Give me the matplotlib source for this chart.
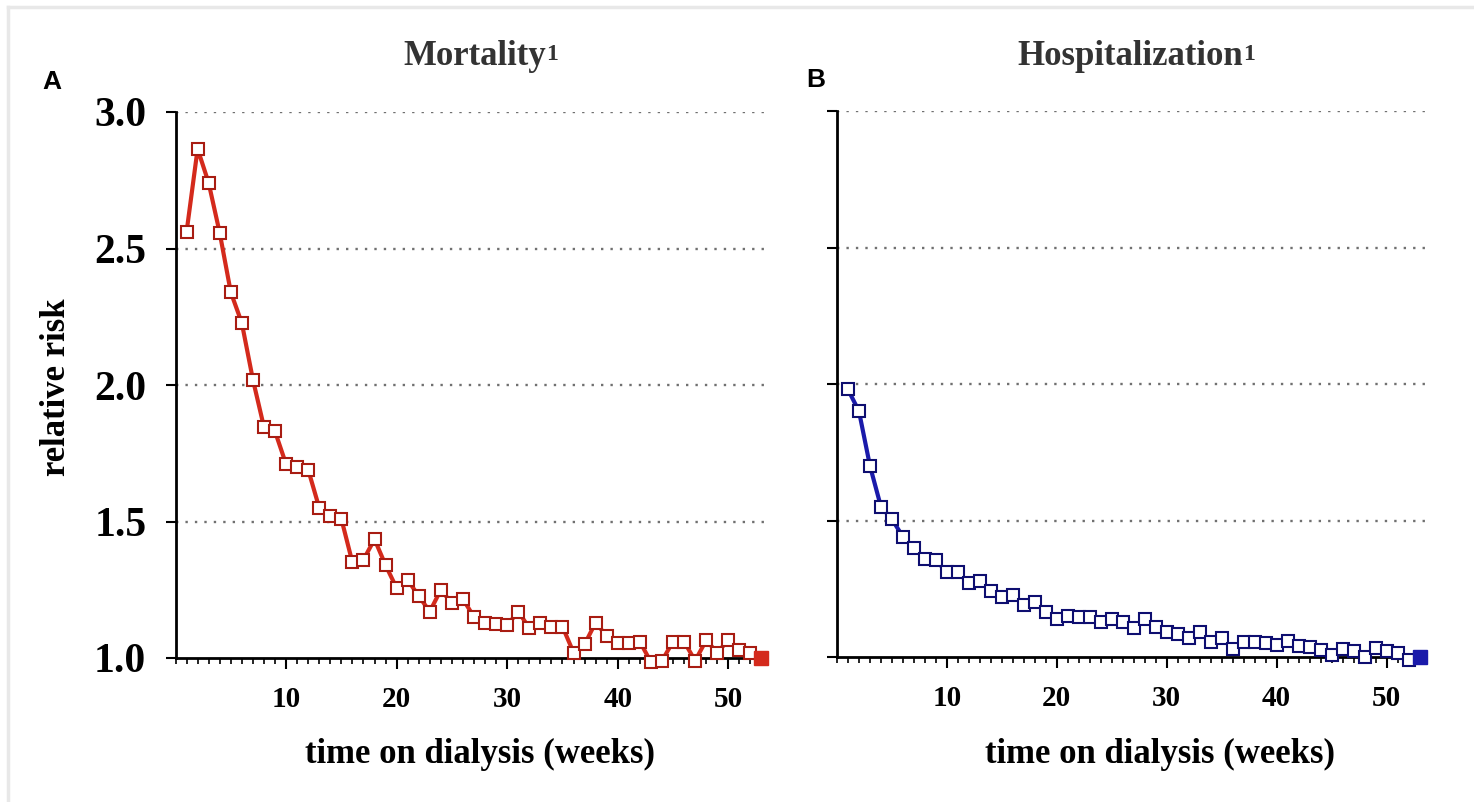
import matplotlib
matplotlib.use("Agg")
import matplotlib.pyplot as plt
from matplotlib.lines import Line2D
from matplotlib.ticker import MultipleLocator

# data
weeks = list(range(1, 54))
mortality = [2.56, 2.865, 2.74, 2.557, 2.34, 2.227, 2.02, 1.846, 1.83, 1.71,
             1.70, 1.69, 1.55, 1.52, 1.51, 1.35, 1.36, 1.435, 1.34, 1.256,
             1.286, 1.227, 1.17, 1.25, 1.20, 1.216, 1.15, 1.13, 1.125, 1.12,
             1.17, 1.11, 1.13, 1.115, 1.115, 1.02, 1.05, 1.13, 1.08, 1.055,
             1.055, 1.06, 0.985, 0.99, 1.06, 1.06, 0.99, 1.065, 1.02, 1.065,
             1.03, 1.02, 1.0]
hospitalization = [1.98, 1.90, 1.70, 1.55, 1.505, 1.44, 1.40, 1.36, 1.355, 1.31,
                   1.31, 1.27, 1.28, 1.24, 1.22, 1.227, 1.19, 1.20, 1.165, 1.14,
                   1.15, 1.147, 1.147, 1.13, 1.14, 1.13, 1.105, 1.14, 1.11, 1.09,
                   1.085, 1.07, 1.09, 1.056, 1.07, 1.03, 1.056, 1.056, 1.05, 1.044,
                   1.06, 1.04, 1.037, 1.026, 1.007, 1.03, 1.022, 1.0, 1.033, 1.022,
                   1.015, 0.99, 1.0]
y_ticks = [1.0, 1.5, 2.0, 2.5, 3.0]
x_ticks = [10, 20, 30, 40, 50]

serif = "Liberation Serif"

fig = plt.figure(figsize=(14.74, 8.02), dpi=100)
W, H = 1474, 802

def px_axes(x0, x1, ytop, ybot):
    return fig.add_axes([x0 / W, 1 - ybot / H, (x1 - x0) / W, (ybot - ytop) / H])

axA = px_axes(175.5, 767, 112, 658)
axB = px_axes(837, 1425, 111, 657)

panels = [
    (axA, mortality, "#d42a1c", "#a81c12", True),
    (axB, hospitalization, "#1a1aaa", "#0e0e70", False),
]

for ax, vals, col, edge, show_y in panels:
    ax.set_xlim(0, 53.5)
    ax.set_ylim(1.0, 3.0)
    for yv in y_ticks[1:]:
        ax.axhline(yv, color="#707070", linestyle=(0, (1, 3)), linewidth=1.7, zorder=1)
    ax.plot(weeks[:-1], vals[:-1], color=col, linewidth=3, marker="s",
            markersize=9, markerfacecolor="white", markeredgecolor=edge,
            markeredgewidth=1.5, clip_on=False, zorder=3)
    ax.plot(weeks[-2:], vals[-2:], color=col, linewidth=3, clip_on=False, zorder=2)
    ax.plot(weeks[-1:], vals[-1:], color=col, linestyle="none", marker="s",
            markersize=10.5, markerfacecolor=col, markeredgecolor=col,
            clip_on=False, zorder=4)

    for s in ["top", "right"]:
        ax.spines[s].set_visible(False)
    for s in ["left", "bottom"]:
        ax.spines[s].set_linewidth(2)
        ax.spines[s].set_color("black")
        ax.spines[s].set_zorder(2.5)

    ax.set_yticks(y_ticks)
    ax.set_xticks(x_ticks)
    ax.xaxis.set_minor_locator(MultipleLocator(1))
    ax.tick_params(axis="y", direction="out", length=7, width=1.5, pad=14)
    ax.tick_params(axis="x", which="major", direction="out", length=8, width=1.5, pad=12)
    ax.tick_params(axis="x", which="minor", direction="out", length=4, width=1.2)
    if show_y:
        ax.set_yticklabels([f"{v:.1f}" for v in y_ticks], fontsize=30,
                           fontweight="bold", family=serif)
    else:
        ax.set_yticklabels([])
    ax.set_xticklabels([str(v) for v in x_ticks], fontsize=21,
                       fontweight="bold", family=serif)

# titles with a larger superscript
for cx, word in [(475, "Mortality"), (1130, "Hospitalization")]:
    t = fig.text(cx / W, 1 - 65 / H, word, ha="center", va="baseline",
                 fontsize=25, fontweight="bold", family=serif, color="#333333")
    fig.text(0, 0, "", transform=None)
    plt.annotate("1", xy=(1, 1), xycoords=t, xytext=(0, -3), textcoords="offset points",
                 ha="left", va="top", fontsize=17, fontweight="bold", family=serif,
                 color="#333333")

# axis labels
fig.text(480 / W, 1 - 763 / H, "time on dialysis (weeks)", ha="center", va="baseline",
         fontsize=25, fontweight="bold", family=serif)
fig.text(1160 / W, 1 - 763 / H, "time on dialysis (weeks)", ha="center", va="baseline",
         fontsize=25, fontweight="bold", family=serif)
fig.text(57 / W, 1 - 387 / H, "relative risk", ha="center", va="center", rotation=90,
         fontsize=25, fontweight="bold", family=serif)

# panel letters
fig.text(52 / W, 1 - 82 / H, "A", ha="center", va="center", fontsize=19,
         fontweight="bold", family="Liberation Sans")
fig.text(816 / W, 1 - 80 / H, "B", ha="center", va="center", fontsize=19,
         fontweight="bold", family="Liberation Sans")

# faint frame of the original figure
fig.add_artist(Line2D([8 / W, 1], [1 - 7 / H, 1 - 7 / H], color="#e8e8e8", linewidth=2.5))
fig.add_artist(Line2D([8 / W, 8 / W], [0, 1 - 7 / H], color="#e8e8e8", linewidth=2.5))

fig.savefig("out.png", dpi=100)
